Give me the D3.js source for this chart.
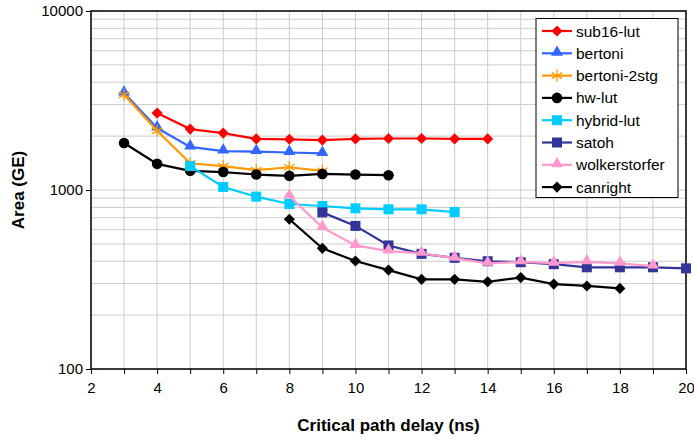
<!DOCTYPE html>
<html>
<head>
<meta charset="utf-8">
<script src="https://cdn.jsdelivr.net/npm/d3@7"></script>
<style>
  body { margin: 0; background: #fff; }
  svg { font-family: "Liberation Sans", Arial, sans-serif; }
</style>
</head>
<body>
<svg id="chart" width="694" height="440"></svg>
<script>
// data
const seriesNames = ["sub16-lut", "bertoni", "bertoni-2stg", "hw-lut", "hybrid-lut", "satoh", "wolkerstorfer", "canright"]
const sub16Lut = [[4, 2690], [5, 2190], [6, 2080], [7, 1930], [8, 1920], [9, 1900], [10, 1930], [11, 1940], [12, 1940], [13, 1930], [14, 1930]]
const bertoni = [[3, 3480], [4, 2220], [5, 1740], [6, 1650], [7, 1640], [8, 1620], [9, 1600]]
const bertoni2stg = [[3, 3400], [4, 2140], [5, 1410], [6, 1360], [7, 1290], [8, 1340], [9, 1280]]
const hwLut = [[3, 1830], [4, 1400], [5, 1280], [6, 1260], [7, 1220], [8, 1200], [9, 1230], [10, 1220], [11, 1210]]
const hybridLut = [[5, 1360], [6, 1040], [7, 918], [8, 835], [9, 814], [10, 790], [11, 780], [12, 780], [13, 753]]
const satoh = [[9, 750], [10, 630], [11, 490], [12, 440], [13, 418], [14, 400], [15, 395], [16, 385], [17, 370], [18, 370], [19, 370], [20, 365]]
const wolkerstorfer = [[8, 925], [9, 616], [10, 490], [11, 456], [12, 443], [13, 416], [14, 389], [15, 397], [16, 390], [17, 397], [18, 389], [19, 376]]
const canright = [[8, 686], [9, 472], [10, 401], [11, 357], [12, 317], [13, 317], [14, 307], [15, 324], [16, 298], [17, 291], [18, 282]]
const seriesData = [sub16Lut, bertoni, bertoni2stg, hwLut, hybridLut, satoh, wolkerstorfer, canright]
const seriesColors = ["#ff0000", "#3366ff", "#ff9900", "#000000", "#00ccff", "#333399", "#ff99cc", "#000000"]
const seriesMarkers = ["diamond", "triangle", "star", "circle", "square", "square", "triangle", "diamond"]
const xTicks = [2, 4, 6, 8, 10, 12, 14, 16, 18, 20]
const yTicks = [100, 1000, 10000]

const svg = d3.select("#chart")
const margin = {top: 11, left: 91, right: 8, bottom: 71}
const W = 694, H = 440
const x = d3.scaleLinear().domain([2, 20]).range([margin.left, W - margin.right])
const y = d3.scaleLog().domain([100, 10000]).range([H - margin.bottom, margin.top])

// gridlines
const grid = svg.append("g")
d3.range(2, 21).forEach(v => {
  grid.append("line").attr("x1", x(v)).attr("x2", x(v))
    .attr("y1", y(100)).attr("y2", y(10000))
    .attr("stroke", "#cccccc").attr("stroke-width", 1)
})
const yMinor = []
;[100, 1000].forEach(d => d3.range(1, 10).forEach(k => yMinor.push(d * k)))
yMinor.push(10000)
yMinor.forEach(v => {
  grid.append("line").attr("x1", x(2)).attr("x2", x(20))
    .attr("y1", y(v)).attr("y2", y(v))
    .attr("stroke", "#cccccc").attr("stroke-width", 1)
})

// axes
const xAxis = d3.axisBottom(x).tickValues(d3.range(2, 21)).tickSize(5)
  .tickFormat(d => xTicks.includes(d) ? d : "")
const yAxis = d3.axisLeft(y).tickValues(yTicks).tickSize(5).tickFormat(d3.format("d"))

const gx = svg.append("g").attr("transform", "translate(0," + y(100) + ")").call(xAxis)
gx.select(".domain").remove()
gx.selectAll("line").attr("stroke", "#000")
gx.selectAll("text").attr("font-size", 15).attr("dy", "1.05em").attr("fill", "#000")
  .attr("font-family", "Liberation Sans, Arial, sans-serif")

const gy = svg.append("g").attr("transform", "translate(" + x(2) + ",0)").call(yAxis)
gy.select(".domain").remove()
gy.selectAll("line").attr("stroke", "#000")
gy.selectAll("text").attr("font-size", 15).attr("fill", "#000").attr("x", -8)
  .attr("font-family", "Liberation Sans, Arial, sans-serif")

// plot frame
svg.append("rect").attr("x", x(2)).attr("y", y(10000))
  .attr("width", x(20) - x(2)).attr("height", y(100) - y(10000))
  .attr("fill", "none").attr("stroke", "#000").attr("stroke-width", 1.5)

// markers
function drawMarker(g, type, color, cx, cy) {
  if (type === "diamond") {
    g.append("path").attr("d", d3.symbol(d3.symbolSquare, 62)())
      .attr("transform", "translate(" + cx + "," + cy + ") rotate(45)").attr("fill", color)
  } else if (type === "triangle") {
    g.append("path").attr("d", d3.symbol(d3.symbolTriangle, 62)())
      .attr("transform", "translate(" + cx + "," + (cy - 1) + ")").attr("fill", color)
  } else if (type === "circle") {
    g.append("circle").attr("cx", cx).attr("cy", cy).attr("r", 5.3).attr("fill", color)
  } else if (type === "square") {
    g.append("rect").attr("x", cx - 5).attr("y", cy - 5).attr("width", 10).attr("height", 10).attr("fill", color)
  } else if (type === "star") {
    const r = 6
    const p = d3.path()
    p.moveTo(cx, cy - r); p.lineTo(cx, cy + r)
    p.moveTo(cx - r * 0.87, cy - r * 0.5); p.lineTo(cx + r * 0.87, cy + r * 0.5)
    p.moveTo(cx - r * 0.87, cy + r * 0.5); p.lineTo(cx + r * 0.87, cy - r * 0.5)
    g.append("path").attr("d", p.toString()).attr("stroke", color).attr("stroke-width", 1.3).attr("fill", "none")
  }
}

const line = d3.line().x(d => x(d[0])).y(d => y(d[1]))
seriesData.forEach((data, i) => {
  const g = svg.append("g")
  g.append("path").datum(data).attr("d", line)
    .attr("fill", "none").attr("stroke", seriesColors[i]).attr("stroke-width", 2.2)
  data.forEach(d => drawMarker(g, seriesMarkers[i], seriesColors[i], x(d[0]), y(d[1])))
})

// axis titles
svg.append("text").attr("x", (x(2) + x(20)) / 2).attr("y", 431)
  .attr("text-anchor", "middle").attr("font-size", 17).attr("font-weight", "bold")
  .text("Critical path delay (ns)")
svg.append("text").attr("transform", "translate(24," + y(1000) + ") rotate(-90)")
  .attr("text-anchor", "middle").attr("font-size", 17).attr("font-weight", "bold")
  .text("Area (GE)")

// legend
const legend = svg.append("g")
legend.append("rect").attr("x", 536).attr("y", 18.5).attr("width", 142).attr("height", 179)
  .attr("fill", "#fff").attr("stroke", "#000").attr("stroke-width", 1)
seriesNames.forEach((name, i) => {
  const ly = 31 + i * 22.3
  legend.append("line").attr("x1", 542).attr("x2", 572).attr("y1", ly).attr("y2", ly)
    .attr("stroke", seriesColors[i]).attr("stroke-width", 2.2)
  drawMarker(legend, seriesMarkers[i], seriesColors[i], 557, ly)
  legend.append("text").attr("x", 576).attr("y", ly).attr("dy", "0.36em")
    .attr("font-size", 15.5).text(name)
})
</script>
</body>
</html>
